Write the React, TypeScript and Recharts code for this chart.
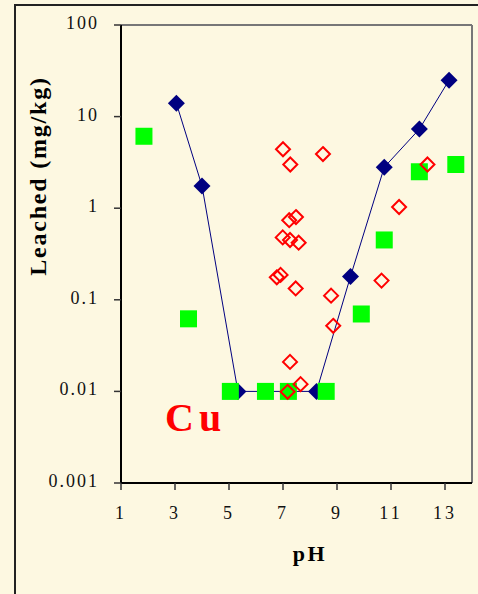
import { ScatterChart, Scatter, XAxis, YAxis, ReferenceLine } from 'recharts'

// Cu leached (mg/kg) against pH
const phStatPH = [3.05, 4.0, 5.33, 8.24, 9.5, 10.75, 12.05, 13.15]
const phStatCu = [14, 1.75, 0.01, 0.01, 0.18, 2.8, 7.3, 25]

const batchPH = [1.85, 3.5, 5.05, 6.35, 7.2, 8.6, 9.9, 10.75, 12.05, 13.4]
const batchCu = [6.1, 0.062, 0.01, 0.01, 0.01, 0.01, 0.07, 0.45, 2.5, 3.0]

const fieldPH = [7.0, 7.27, 8.48, 12.35, 11.3, 7.23, 7.48, 6.99, 7.26, 7.58, 6.77, 6.91, 7.47, 8.78, 8.86, 10.65, 7.26, 7.65, 7.17]
const fieldCu = [4.4, 3.0, 3.9, 3.0, 1.03, 0.74, 0.8, 0.48, 0.45, 0.42, 0.176, 0.187, 0.133, 0.111, 0.052, 0.162, 0.021, 0.012, 0.0099]

const phTicks = [1, 3, 5, 7, 9, 11, 13]
const cuTicks = [0.001, 0.01, 0.1, 1, 10, 100]

const BG = '#fdf8e1'
const SERIF = '"Liberation Serif", serif'

const toPoints = (xs: number[], ys: number[]) => xs.map((ph, i) => ({ ph, cu: ys[i] }))

const tickText = { fontFamily: SERIF, fontSize: 18, fill: '#111' }

const YTick = ({ x, y, payload }: any) => (
  <text x={x - 13} y={y + 4} textAnchor="end" style={{ ...tickText, letterSpacing: 2 }}>
    {String(payload.value)}
  </text>
)

const XTick = ({ x, y, payload }: any) => (
  <text x={x} y={y + 27} textAnchor="middle" style={{ ...tickText, letterSpacing: 3 }}>
    {String(payload.value)}
  </text>
)

const BlueDiamond = ({ cx, cy }: any) => (
  <polygon points={`${cx},${cy - 8.5} ${cx + 8.5},${cy} ${cx},${cy + 8.5} ${cx - 8.5},${cy}`} fill="#000080" />
)
const GreenSquare = ({ cx, cy }: any) => (
  <rect x={cx - 8.5} y={cy - 8.5} width={17} height={17} fill="#00ff00" />
)
const RedDiamond = ({ cx, cy }: any) => (
  <polygon points={`${cx},${cy - 7} ${cx + 7},${cy} ${cx},${cy + 7} ${cx - 7},${cy}`}
    fill="none" stroke="#ff0000" strokeWidth={2} />
)

export default function App() {
  return (
    <div style={{
      position: 'absolute', left: 0, top: 0, width: 478, height: 594,
      background: BG, overflow: 'hidden',
    }}>
      <div style={{
        position: 'absolute', left: 14, top: 4, width: 600, height: 700,
        border: '2px solid #222',
      }} />
      <div style={{
        position: 'absolute', left: 165, top: 398,
        fontFamily: SERIF, fontWeight: 700, fontSize: 40, color: '#ff0000',
        letterSpacing: 5, lineHeight: 1,
      }}>Cu</div>
      <div style={{ position: 'absolute', left: 0, top: 0 }}>
        <ScatterChart width={478} height={594} margin={{ top: 25, right: 6, bottom: 0, left: 0 }}>
          <XAxis
            type="number" dataKey="ph" domain={[1, 14]} ticks={phTicks}
            allowDataOverflow height={111} tickSize={7}
            axisLine={{ stroke: '#000', strokeWidth: 2 }}
            tickLine={{ stroke: '#333', strokeWidth: 1.5 }}
            tick={<XTick />}
            label={{
              content: ({ viewBox }: any) => (
                <text x={viewBox.x + 189} y={viewBox.y + 78} textAnchor="middle"
                  style={{ fontFamily: SERIF, fontWeight: 700, fontSize: 22, letterSpacing: 2.5, fill: '#000' }}>pH</text>
              ),
            }}
          />
          <YAxis
            type="number" dataKey="cu" scale="log" domain={[0.001, 100]} ticks={cuTicks}
            allowDataOverflow width={121} tickSize={7}
            axisLine={{ stroke: '#000', strokeWidth: 2 }}
            tickLine={{ stroke: '#333', strokeWidth: 1.5 }}
            tick={<YTick />}
            label={{
              content: ({ viewBox }: any) => (
                <text x={40} y={viewBox.y + 151} textAnchor="middle" transform={`rotate(-90, 40, ${viewBox.y + 151})`}
                  dy={6} style={{ fontFamily: SERIF, fontWeight: 700, fontSize: 24, letterSpacing: 1.8, fill: '#000' }}>Leached (mg/kg)</text>
              ),
            }}
          />
          <ReferenceLine y={100} stroke="#777" strokeWidth={2} />
          <ReferenceLine x={14} stroke="#777" strokeWidth={2} />
          <Scatter data={toPoints(phStatPH, phStatCu)} shape={<BlueDiamond />}
            line={{ stroke: '#000080', strokeWidth: 1 }} isAnimationActive={false} />
          <Scatter data={toPoints(batchPH, batchCu)} shape={<GreenSquare />} isAnimationActive={false} />
          <Scatter data={toPoints(fieldPH, fieldCu)} shape={<RedDiamond />} isAnimationActive={false} />
        </ScatterChart>
      </div>
    </div>
  )
}
